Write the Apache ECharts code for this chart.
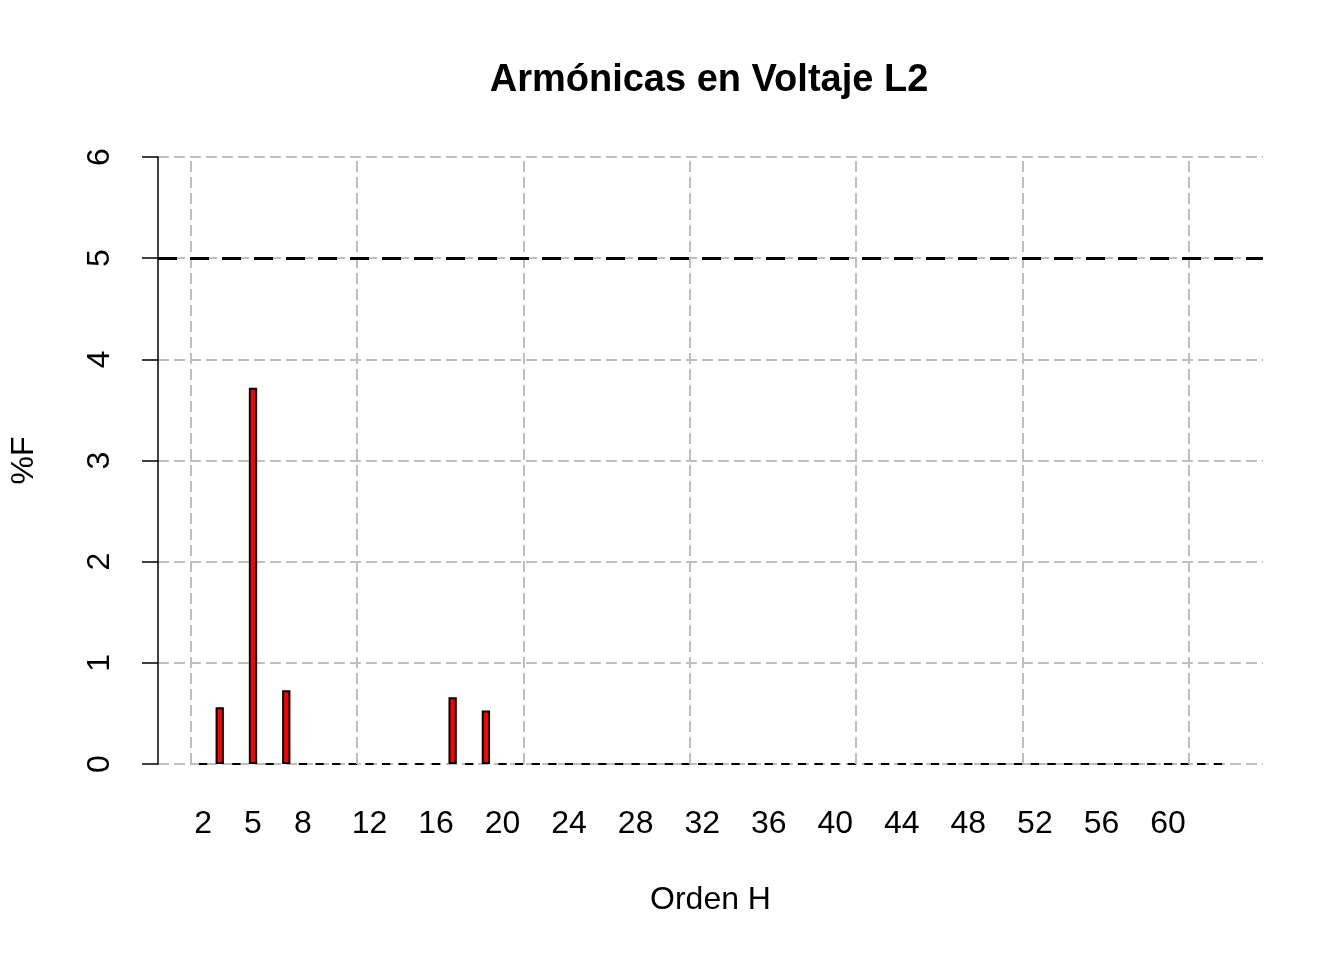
<!DOCTYPE html>
<html>
<head>
<meta charset="utf-8">
<script src="https://cdn.jsdelivr.net/npm/echarts@6/dist/echarts.min.js"></script>
<style>
html,body{margin:0;padding:0;background:#fff;}
#c{width:1344px;height:960px;}
</style>
</head>
<body>
<div id="c"></div>
<script>
// ---- data ----
const harmonics = [2,3,4,5,6,7,8,9,10,11,12,13,14,15,16,17,18,19,20,21,22,23,24,25,26,27,28,29,30,31,32,33,34,35,36,37,38,39,40,41,42,43,44,45,46,47,48,49,50,51,52,53,54,55,56,57,58,59,60,61,62,63];
const percentF = [0,0.56,0,3.72,0,0.73,0,0,0,0,0,0,0,0,0,0.66,0,0.53,0,0,0,0,0,0,0,0,0,0,0,0,0,0,0,0,0,0,0,0,0,0,0,0,0,0,0,0,0,0,0,0,0,0,0,0,0,0,0,0,0,0,0,0];
const tickHarmonics = [2,5,8,12,16,20,24,28,32,36,40,44,48,52,56,60];
const yTicks = [0,1,2,3,4,5,6];
const limitValue = 5;
const gridBreaksUser = [0,20,40,60,80,100,120]; // R grid() breaks in barplot user units
const titleText = 'Armónicas en Voltaje L2';
const xName = 'Orden H';
const yName = '%F';

// barplot(space=1, width=1): bar i centre at 1.5 + 2*i  -> harmonic h maps to user u = 2h - 2.5
const userToH = u => (u + 2.5) / 2;
const nBars = harmonics.length;
const uMin = 1 - 0.04 * (2 * nBars - 1);
const uMax = 2 * nBars + 0.04 * (2 * nBars - 1);

const FONT = 'Liberation Sans, Arial, sans-serif';
const chart = echarts.init(document.getElementById('c'), null, {renderer: 'canvas'});
chart.setOption({
  backgroundColor: '#ffffff',
  animation: false,
  title: {
    text: titleText,
    left: 704, top: 57, textAlign: 'center',
    textStyle: {fontFamily: FONT, fontSize: 38, fontWeight: 'bold', color: '#000'}
  },
  grid: {left: 157, right: 81, top: 157, bottom: 196, containLabel: false},
  xAxis: {
    type: 'value',
    min: userToH(uMin), max: userToH(uMax),
    name: xName, nameLocation: 'middle', nameGap: 120,
    nameTextStyle: {fontFamily: FONT, fontSize: 32, color: '#000'},
    axisLine: {show: false, onZero: false},
    axisTick: {show: false},
    splitLine: {show: false},
    axisLabel: {
      customValues: tickHarmonics,
      margin: 44,
      fontFamily: FONT, fontSize: 32, color: '#000',
      formatter: v => String(Math.round(v))
    }
  },
  yAxis: {
    type: 'value', min: 0, max: 6, interval: 1,
    name: yName, nameLocation: 'middle', nameGap: 118, nameRotate: 90,
    nameTextStyle: {fontFamily: FONT, fontSize: 32, color: '#000'},
    axisLine: {show: true, onZero: false, lineStyle: {color: '#000', width: 1.5}},
    axisTick: {show: true, length: 16, lineStyle: {color: '#000', width: 1.5}},
    axisLabel: {
      rotate: 90, margin: 42,
      fontFamily: FONT, fontSize: 32, color: '#000',
      formatter: v => yTicks.includes(v) ? String(v) : ''
    },
    splitLine: {show: true, lineStyle: {color: '#BEBEBE', width: 2, type: [11, 5]}}
  },
  series: [
    {
      type: 'bar',
      data: harmonics.map((h, i) => [h, percentF[i]]),
      barWidth: 8.3,
      itemStyle: {color: '#FF0000', borderColor: '#000', borderWidth: 2},
      z: 2
    },
    {
      type: 'line', data: [], silent: true, z: 3,
      markLine: {
        silent: true, symbol: 'none', label: {show: false},
        lineStyle: {color: '#BEBEBE', width: 2, type: [11, 5]},
        data: gridBreaksUser.map(u => ({xAxis: userToH(u)}))
      }
    },
    {
      type: 'line', data: [], silent: true, z: 4,
      markLine: {
        silent: true, symbol: 'none', label: {show: false},
        lineStyle: {color: '#000', width: 3, type: [19, 13]},
        data: [{yAxis: limitValue}]
      }
    }
  ]
});
</script>
</body>
</html>
